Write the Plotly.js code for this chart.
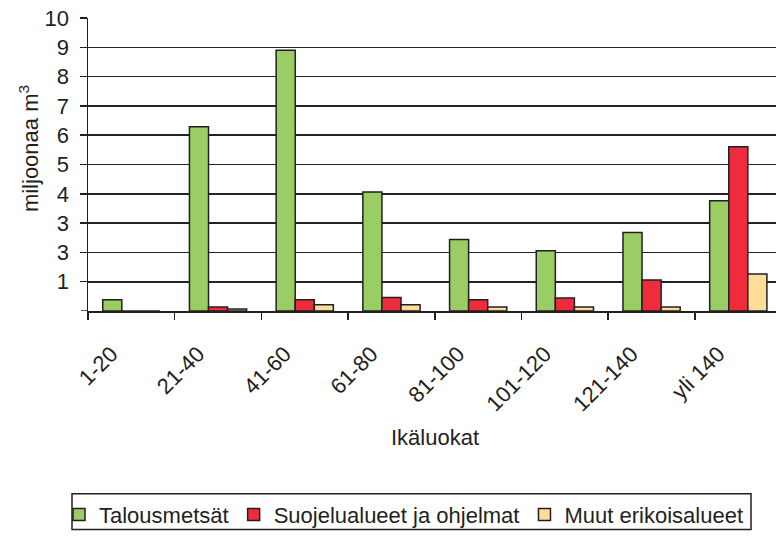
<!DOCTYPE html>
<html>
<head>
<meta charset="utf-8">
<script src="https://cdn.plot.ly/plotly-3.0.1.min.js"></script>
<style>
html,body{margin:0;padding:0;background:#fff;overflow:hidden;}
#chart{width:776px;height:536px;}
</style>
</head>
<body>
<div id="chart"></div>
<script>
var categories = ['1-20', '21-40', '41-60', '61-80', '81-100', '101-120', '121-140', 'yli 140'];
var talousmetsat = [0.38, 6.29, 8.9, 4.06, 2.44, 2.06, 2.68, 3.76];
var suojelualueet = [0, 0.14, 0.38, 0.46, 0.38, 0.44, 1.06, 5.61];
var muutErikois = [0, 0.07, 0.21, 0.21, 0.14, 0.14, 0.14, 1.26];
var seriesNames = ['Talousmetsät', 'Suojelualueet ja ohjelmat', 'Muut erikoisalueet'];
var yTickVals = [1, 2, 3, 4, 5, 6, 7, 8, 9, 10];
var yTickText = ['1', '3', '3', '4', '5', '6', '7', '8', '9', '10'];
var xTitle = 'Ikäluokat';
var yTitle = 'miljoonaa m<sup>3</sup>';

var ink = '#231f20';
var font = 'Liberation Sans, Arial, sans-serif';
var fs = 22;
var W = 776, H = 536, L = 88, R = 0, T = 18, B = 223;
var pw = W - L - R, ph = H - T - B;
function px(x){ return (x - L) / pw; }
function py(y){ return (H - B - y) / ph; }

function bar(name, vals, color){
  return {type:'bar', name:name, x:categories, y:vals,
    marker:{color:color, line:{color:ink, width:1.5}}, hoverinfo:'skip'};
}
var data = [
  bar(seriesNames[0], talousmetsat, '#9acd64'),
  bar(seriesNames[1], suojelualueet, '#ee2c3c'),
  bar(seriesNames[2], muutErikois, '#fedd99')
];

var layout = {
  width:W, height:H,
  margin:{l:L, r:R, t:T, b:B, pad:0},
  paper_bgcolor:'#fff', plot_bgcolor:'#fff',
  font:{family:font, size:fs, color:ink},
  barmode:'group', bargap:0.34, bargroupgap:0,
  showlegend:true,
  xaxis:{type:'category', range:[-0.5, 7.435], fixedrange:true,
    showline:true, linecolor:ink, linewidth:1.5,
    ticks:'outside', tickson:'boundaries', ticklen:7, tickwidth:1.5, tickcolor:ink,
    tickangle:-45, ticklabelstandoff:20, ticklabelshift:-20,
    tickfont:{family:font, size:fs, color:ink},
    showgrid:false, zeroline:false, automargin:false},
  yaxis:{range:[0,10], fixedrange:true,
    tickmode:'array', tickvals:yTickVals, ticktext:yTickText,
    showline:true, linecolor:ink, linewidth:1.5,
    ticks:'outside', ticklen:7, tickwidth:1.5, tickcolor:ink,
    ticklabelstandoff:6,
    tickfont:{family:font, size:fs, color:ink},
    showgrid:true, gridcolor:'#222222', gridwidth:1.6,
    zeroline:false, automargin:false},
  legend:{orientation:'h', x:px(59), y:py(497), xanchor:'left', yanchor:'top',
    bgcolor:'rgba(0,0,0,0)', borderwidth:0,
    font:{family:font, size:fs, color:ink}, traceorder:'normal'},
  shapes:[
    {type:'line', xref:'paper', yref:'y', x0:px(81), x1:px(88), y0:0, y1:0,
     line:{color:ink, width:1.5}},
    {type:'rect', xref:'paper', yref:'paper', x0:px(72), x1:px(751), y0:py(497), y1:py(533),
     line:{color:ink, width:1.5}, fillcolor:'rgba(0,0,0,0)', layer:'above'}
  ],
  annotations:[
    {text:xTitle, xref:'paper', yref:'paper', x:px(435), y:py(440),
     xanchor:'center', yanchor:'middle', showarrow:false,
     font:{family:font, size:fs, color:ink}},
    {text:yTitle, xref:'paper', yref:'paper', x:px(29), y:py(150),
     xanchor:'center', yanchor:'middle', showarrow:false, textangle:-90,
     font:{family:font, size:fs, color:ink}}
  ]
};
Plotly.newPlot('chart', data, layout, {displayModeBar:false, staticPlot:true});
</script>
</body>
</html>
